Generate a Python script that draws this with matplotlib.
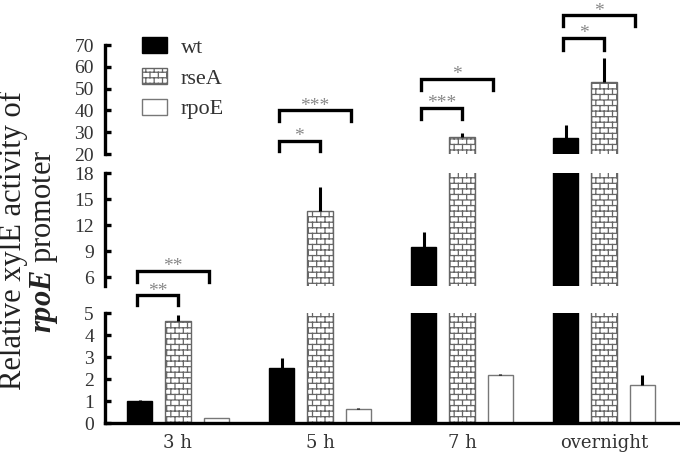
import warnings

import numpy as np
import matplotlib
matplotlib.use('Agg')
import matplotlib.pyplot as plt
import matplotlib.hatch as mhatch
from matplotlib.path import Path

warnings.filterwarnings('ignore')

categories = ['3 h', '5 h', '7 h', 'overnight']
strains = ['wt', 'rseA', 'rpoE']
wt_mean = [1.0, 2.5, 9.5, 27.5]
wt_err = [0.03, 0.45, 1.7, 5.8]
rsea_mean = [4.65, 13.6, 27.8, 53.2]
rsea_err = [0.25, 2.8, 1.9, 11.0]
rpoe_mean = [0.22, 0.62, 2.18, 1.75]
rpoe_err = [0.02, 0.05, 0.05, 0.45]

# significance brackets: (group, from strain, to strain, bracket height, leg end, label)
sig_low = [(0, 0, 1, 5.8, 5.36, '**'),
           (0, 0, 2, 6.9, 6.4, '**')]
sig_top = [(1, 0, 1, 26.0, 21.4, '*'),
           (1, 0, 2, 40.0, 35.3, '***'),
           (2, 0, 1, 41.3, 36.2, '***'),
           (2, 0, 2, 54.3, 49.2, '*'),
           (3, 0, 1, 73.2, 67.7, '*'),
           (3, 0, 2, 83.6, 78.8, '*')]


class BrickHatch(mhatch.HatchPatternBase):
    # brick wall texture, switched on by 'b' in the hatch string
    def __init__(self, hatch, density):
        self.segs = []
        if 'b' in hatch:
            n, m = 18, 12
            for k in range(n + 1):
                self.segs.append(((0.0, k / n), (1.0, k / n)))
            for k in range(n):
                shift = 0.5 * (k % 2)
                for j in range(m + 1):
                    x = (j + shift) / m
                    if x <= 1.0:
                        self.segs.append(((x, k / n), (x, (k + 1) / n)))
        self.num_vertices = len(self.segs) * 2

    def set_vertices_and_codes(self, vertices, codes):
        for i, (a, b) in enumerate(self.segs):
            vertices[2 * i] = a
            vertices[2 * i + 1] = b
            codes[2 * i] = Path.MOVETO
            codes[2 * i + 1] = Path.LINETO


mhatch._hatch_types.append(BrickHatch)

plt.rcParams['font.family'] = ['Liberation Serif', 'DejaVu Serif']
plt.rcParams['mathtext.fontset'] = 'custom'
plt.rcParams['mathtext.it'] = 'Liberation Serif:italic:bold'
plt.rcParams['hatch.linewidth'] = 0.9
plt.rcParams['hatch.color'] = '#555555'

fig = plt.figure(figsize=(6.8, 4.59), dpi=100)
left = 105 / 680
width = 1 - left
ax_top = fig.add_axes([left, 1 - 154 / 459, width, 109 / 459])
ax_mid = fig.add_axes([left, 1 - 286 / 459, width, 113 / 459])
ax_low = fig.add_axes([left, 1 - 423 / 459, width, 110 / 459])

x = np.arange(len(categories))
off = 0.27
bw = 0.18
means = [wt_mean, rsea_mean, rpoe_mean]
errs = [wt_err, rsea_err, rpoe_err]
styles = [dict(color='black', edgecolor='black', linewidth=1),
          dict(color='white', edgecolor='#666666', hatch='b', linewidth=1),
          dict(color='white', edgecolor='#777777', linewidth=1)]
bracket_pos = [-0.29, 0.0, 0.22]

for ax, lim, ticks in [(ax_top, (20, 70), np.arange(20, 71, 10)),
                       (ax_mid, (5, 18), np.arange(6, 19, 3)),
                       (ax_low, (0, 5), np.arange(0, 6, 1))]:
    handles = []
    for i in range(3):
        b = ax.bar(x + (i - 1) * off, means[i], bw, label=strains[i], **styles[i])
        handles.append(b)
        ax.errorbar(x + (i - 1) * off, means[i], yerr=[np.zeros(len(x)), errs[i]],
                    fmt='none', ecolor='black', elinewidth=2.2, capsize=0)
    ax.set_xlim(-0.514, 3.535)
    ax.set_ylim(*lim)
    ax.set_yticks(ticks)
    for s in ['top', 'right', 'bottom']:
        ax.spines[s].set_visible(False)
    ax.spines['left'].set_linewidth(2.4)
    ax.tick_params(axis='y', direction='in', length=4, width=2.4, pad=8,
                   labelsize=14, labelcolor='#333333')
    ax.tick_params(axis='x', length=0)
    ax.set_xticks([])
    ax.set_facecolor('none')

ax_low.spines['bottom'].set_visible(True)
ax_low.spines['bottom'].set_linewidth(2.4)
ax_low.set_xticks(x)
ax_low.set_xticklabels(categories, family='DejaVu Serif')
ax_low.tick_params(axis='x', length=0, pad=8, labelsize=13, labelcolor='#333333')

ax_top.legend(handles=handles, frameon=False, loc='upper left',
              bbox_to_anchor=(142 / 680, 1 - 37 / 459), bbox_transform=fig.transFigure,
              fontsize=16, handlelength=1.14, handleheight=0.73, labelspacing=0.45,
              handletextpad=0.6, borderpad=0, borderaxespad=0, labelcolor='#333333')


def draw_brackets(ax, sigs):
    for g, a, b, h, leg, label in sigs:
        xa = x[g] + bracket_pos[a]
        xb = x[g] + bracket_pos[b]
        ax.plot([xa, xa, xb, xb], [leg, h, h, leg], color='black', lw=2.4,
                solid_joinstyle='miter', clip_on=False)
        ax.annotate(label, ((xa + xb) / 2, h), xytext=(0, -3), textcoords='offset points',
                    ha='center', va='bottom', fontsize=14, color='#888888',
                    annotation_clip=False)


draw_brackets(ax_low, sig_low)
draw_brackets(ax_top, sig_top)

fig.text(0.043, 0.475, 'Relative xylE activity of\n$\\it{rpoE}$ promoter', rotation=90,
         ha='center', va='center', multialignment='center', fontsize=22,
         linespacing=1.0, color='#222222')

fig.savefig('out.png', dpi=100)
